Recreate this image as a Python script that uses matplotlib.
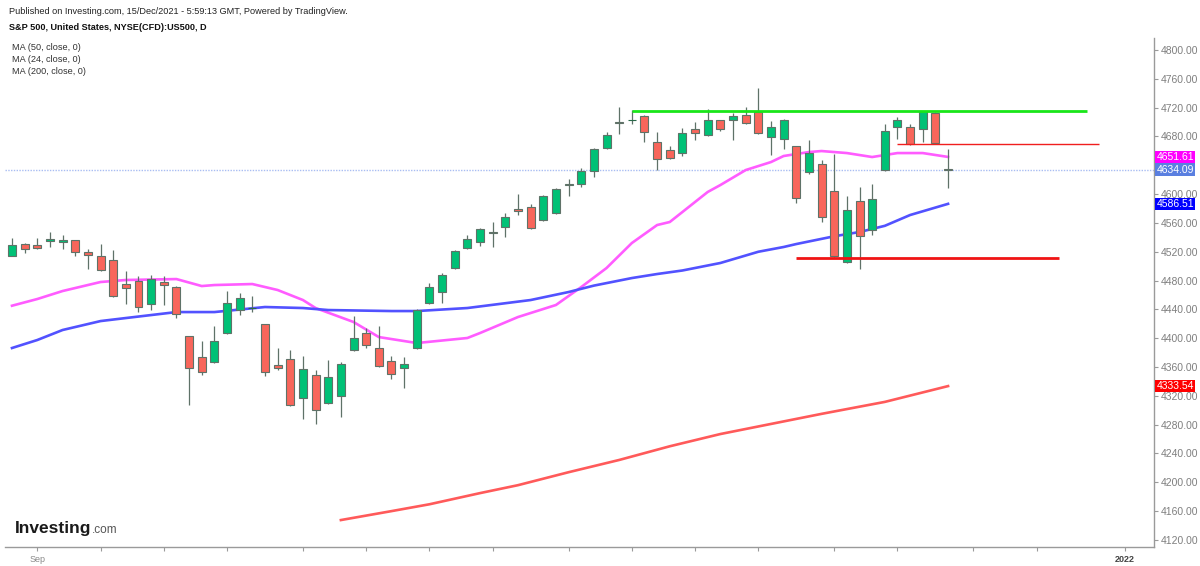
import matplotlib
matplotlib.use("Agg")
import matplotlib.pyplot as plt
import matplotlib.transforms as mtransforms

plt.rcParams['font.family'] = ['Liberation Sans', 'DejaVu Sans']

# --- daily candles (bar index 0 = first visible session) ---
opens = [4514.1, 4530.7, 4529.3, 4534.8, 4533.4, 4536.2, 4519.6, 4514.1, 4508.3, 4475.2,
         4479.3, 4447.6, 4477.9, 4471.0, 4402.8, 4373.8, 4366.9, 4406.9, 4438.6, 4441.4,
         4419.3, 4362.8, 4371.0, 4317.2, 4348.9, 4310.3, 4320.0, 4383.5, 4406.9, 4386.2,
         4368.3, 4358.6, 4386.7, 4448.8, 4463.9, 4497.7, 4525.3, 4533.6, 4547.4, 4554.3,
         4579.1, 4581.9, 4563.9, 4573.6, 4612.9, 4614.3, 4632.2, 4664.0, 4700.5, 4702.2,
         4708.1, 4672.2, 4661.2, 4657.1, 4690.2, 4681.9, 4702.6, 4702.6, 4709.5, 4713.6,
         4679.1, 4676.4, 4666.7, 4630.8, 4641.9, 4604.7, 4505.8, 4590.9, 4550.8, 4633.6,
         4692.9, 4692.9, 4690.2, 4712.2, 4635.5]
highs = [4538.9, 4532.0, 4538.9, 4547.2, 4543.1, 4537.0, 4523.8, 4530.7, 4522.1, 4493.1,
         4486.2, 4487.6, 4486.2, 4472.2, 4403.5, 4395.9, 4416.5, 4466.2, 4463.4, 4457.9,
         4420.0, 4386.2, 4383.5, 4375.2, 4355.9, 4369.7, 4366.9, 4430.3, 4413.8, 4416.5,
         4375.2, 4373.8, 4440.5, 4476.4, 4490.1, 4522.6, 4543.3, 4552.9, 4561.2, 4573.6,
         4599.8, 4586.0, 4598.4, 4608.1, 4621.2, 4636.4, 4664.0, 4686.0, 4720.5, 4716.4,
         4709.5, 4686.0, 4666.7, 4691.6, 4699.8, 4717.8, 4703.4, 4712.2, 4720.5, 4746.7,
         4701.2, 4704.0, 4667.4, 4675.0, 4647.4, 4655.7, 4597.7, 4610.2, 4614.3, 4697.1,
         4706.7, 4697.1, 4715.9, 4713.4, 4662.6]
lows = [4514.1, 4518.2, 4523.8, 4526.5, 4523.8, 4514.1, 4496.2, 4493.0, 4456.7, 4447.6,
        4436.6, 4439.3, 4446.2, 4428.3, 4307.6, 4348.9, 4366.0, 4406.0, 4431.7, 4435.9,
        4347.6, 4355.9, 4306.0, 4288.3, 4281.4, 4309.0, 4291.0, 4382.0, 4386.2, 4360.0,
        4343.4, 4331.0, 4385.5, 4447.5, 4448.8, 4496.7, 4524.2, 4528.1, 4526.7, 4540.5,
        4570.8, 4551.7, 4562.7, 4572.2, 4597.7, 4610.2, 4624.0, 4662.9, 4683.3, 4697.1,
        4672.2, 4633.6, 4648.9, 4652.9, 4675.0, 4680.9, 4687.4, 4675.0, 4697.1, 4683.4,
        4654.3, 4662.6, 4588.1, 4628.1, 4561.9, 4512.4, 4504.5, 4496.2, 4543.5, 4632.4,
        4676.4, 4668.4, 4672.2, 4669.9, 4608.8]
closes = [4529.3, 4523.8, 4525.1, 4537.6, 4536.2, 4519.6, 4515.5, 4494.8, 4458.6, 4469.7,
          4443.5, 4482.1, 4473.8, 4433.8, 4358.6, 4353.1, 4395.9, 4448.3, 4455.2, 4442.0,
          4353.1, 4358.6, 4307.6, 4357.2, 4300.7, 4346.2, 4364.1, 4400.0, 4390.4, 4361.4,
          4350.3, 4364.1, 4439.1, 4470.8, 4487.4, 4521.2, 4537.8, 4551.5, 4546.0, 4568.1,
          4576.4, 4552.9, 4597.0, 4606.7, 4614.3, 4632.2, 4662.6, 4681.9, 4699.1, 4703.1,
          4686.0, 4648.8, 4650.2, 4684.7, 4684.7, 4702.6, 4690.2, 4708.1, 4698.4, 4684.7,
          4692.9, 4702.6, 4595.0, 4657.1, 4568.8, 4513.6, 4578.4, 4541.2, 4593.6, 4687.4,
          4702.6, 4669.5, 4715.0, 4670.9, 4634.09]

ma24_idx = [0, 2, 4, 7, 9, 13, 15, 16, 19, 21, 23, 24, 27, 29, 32, 36, 37, 40, 43, 45,
            47, 49, 51, 52, 55, 56, 58, 60, 61, 63, 64, 66, 68, 70, 72, 74]
ma24_val = [4445.1, 4454.4, 4465.5, 4478.0, 4480.8, 4482.1, 4472.4, 4473.8, 4475.2, 4466.9,
            4453.0, 4441.9, 4422.5, 4401.6, 4393.3, 4400.3, 4407.2, 4429.4, 4446.1, 4471.0,
            4497.4, 4532.1, 4557.1, 4561.3, 4603.0, 4612.6, 4633.4, 4644.5, 4652.9, 4658.4,
            4659.8, 4657.0, 4651.5, 4657.0, 4657.0, 4651.61]
ma50_idx = [0, 2, 4, 7, 9, 13, 16, 20, 23, 25, 30, 32, 36, 41, 44, 46, 49, 51, 53, 56,
            59, 61, 62, 65, 67, 69, 71, 74]
ma50_val = [4386.4, 4397.5, 4411.4, 4423.8, 4428.0, 4436.3, 4436.3, 4443.3, 4441.9, 4439.1,
            4437.7, 4437.7, 4441.9, 4453.0, 4464.1, 4473.0, 4483.5, 4489.1, 4494.0, 4504.4,
            4520.0, 4526.6, 4530.7, 4541.5, 4547.4, 4556.0, 4571.0, 4586.51]
ma200_idx = [26, 30, 33, 37, 40, 44, 48, 52, 56, 60, 64, 69, 74]
ma200_val = [4147.6, 4160.0, 4169.5, 4185.0, 4196.0, 4214.0, 4231.0, 4250.0, 4267.0, 4281.0,
             4295.0, 4311.6, 4333.54]

# --- drawn levels: (price, start bar, end bar) ---
resistance = (4716.0, 49.0, 85.0)
level_mid = (4669.5, 70.0, 85.9)
support = (4511.3, 62.0, 82.8)

last_price = 4634.09

xtick_pos = [2, 7, 12, 17, 23, 28, 33, 38, 44, 49, 54, 59, 65, 70, 76, 81, 88]
xtick_lbl = ['Sep'] + [''] * 15 + ['2022']
yticks = list(range(4120, 4801, 40))
# 4640 sits under the price tags, so its label is not shown
ytick_lbl = ['' if v == 4640 else f'{v:.2f}' for v in yticks]

GREEN = '#00c176'
RED = '#f8665b'
EDGE = '#5f7268'

W, H = 1200, 566
fig = plt.figure(figsize=(W / 100, H / 100), dpi=100)
ax = fig.add_axes([5 / W, 1 - 547 / H, (1154 - 5) / W, (547 - 38) / H])
ax.set_xlim(-0.553, 90.28)
ax.set_ylim(4110.2, 4816.7)

# candles
for i, (o, h, l, c) in enumerate(zip(opens, highs, lows, closes)):
    col = GREEN if c >= o else RED
    ax.vlines(i, l, h, color=EDGE, linewidth=0.9, zorder=3)
    body = max(abs(c - o), 1.0)
    ax.bar(i, body, bottom=min(o, c), width=0.63, color=col,
           edgecolor=EDGE if abs(c - o) > 1.2 else ('#7a2a2a' if c < o else '#2a6a4a'),
           linewidth=0.8, zorder=4)

ax.plot(ma24_idx, ma24_val, color='#ff5cff', lw=1.9, zorder=2)
ax.plot(ma50_idx, ma50_val, color='#5252ff', lw=1.9, zorder=2)
ax.plot(ma200_idx, ma200_val, color='#ff5a5a', lw=1.9, zorder=2)

ax.hlines(resistance[0], resistance[1], resistance[2], color='#19e619', lw=2.0, zorder=5)
ax.hlines(level_mid[0], level_mid[1], level_mid[2], color='#f01e1e', lw=1.0, zorder=5)
ax.hlines(support[0], support[1], support[2], color='#f01414', lw=2.0, zorder=5)

ax.axhline(last_price, color='#a9bdf2', lw=1.0, ls=(0, (1, 1)), zorder=1)

# axes styling
for s in ['top', 'left']:
    ax.spines[s].set_visible(False)
for s in ['right', 'bottom']:
    ax.spines[s].set_color('#9a9a9a')
    ax.spines[s].set_linewidth(1.0)
ax.yaxis.tick_right()
ax.set_yticks(yticks)
ax.set_yticklabels(ytick_lbl)
ax.tick_params(axis='y', colors='#9a9a9a', labelcolor='#7f7f7f', labelsize=7.5,
               length=3, width=0.8, pad=2)
ax.set_xticks(xtick_pos)
ax.set_xticklabels(xtick_lbl)
ax.tick_params(axis='x', colors='#9a9a9a', labelcolor='#8a8a8a', labelsize=6.5,
               length=3, width=0.8, pad=3)
for t in ax.get_xticklabels():
    if t.get_text() == '2022':
        t.set_fontweight('bold')
        t.set_color('#444444')

# price tags at the right scale
tags = [(ma24_val[-1], '#ff00ff'), (last_price, '#5a7fe0'),
        (ma50_val[-1], '#0000ff'), (ma200_val[-1], '#ff0000')]
trans = mtransforms.blended_transform_factory(ax.transAxes, ax.transData)
for val, col in tags:
    ax.text(1.002, val, f'{val:.2f}', transform=trans, ha='left', va='center',
            fontsize=7.5, color='white', zorder=10, clip_on=False,
            bbox=dict(boxstyle='square,pad=0.12', fc=col, ec='none'))

# header
fig.text(9 / W, 1 - 12 / H, 'Published on Investing.com, 15/Dec/2021 - 5:59:13 GMT, Powered by TradingView.',
         fontsize=6.6, color='#222222', va='center')
fig.text(9 / W, 1 - 27 / H, 'S&P 500, United States, NYSE(CFD):US500, D',
         fontsize=6.6, fontweight='bold', color='#111111', va='center')
for k, lbl in enumerate(['MA (50, close, 0)', 'MA (24, close, 0)', 'MA (200, close, 0)']):
    fig.text(12 / W, 1 - (48 + 12 * k) / H, lbl, fontsize=6.6, color='#333333', va='center')

# logo
fig.text(15 / W, 1 - 528 / H, 'Investing', fontsize=12.5, fontweight='bold',
         color='#1a1a1a', va='center')
fig.text(92 / W, 1 - 530 / H, '.com', fontsize=8.5, color='#555555', va='center')

fig.savefig('out.png', dpi=100)
